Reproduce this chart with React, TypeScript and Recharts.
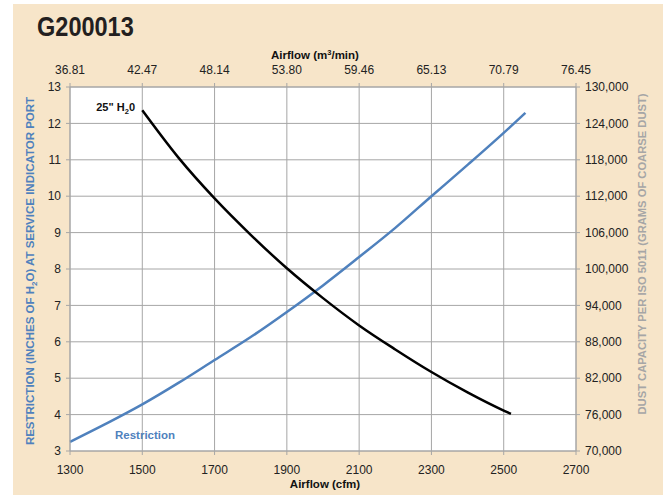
import React from "react";
import { LineChart, Line, XAxis, YAxis, CartesianGrid } from "recharts";

const cfmTicks = [1300, 1500, 1700, 1900, 2100, 2300, 2500, 2700];
const m3Labels = ["36.81", "42.47", "48.14", "53.80", "59.46", "65.13", "70.79", "76.45"];
const restrictionTicks = [3, 4, 5, 6, 7, 8, 9, 10, 11, 12, 13];
const dustTicks = [70000, 76000, 82000, 88000, 94000, 100000, 106000, 112000, 118000, 124000, 130000];

// Restriction curve (left axis, inches H2O)
const restrictionCfm = [1300, 1400, 1500, 1600, 1700, 1800, 1900, 2000, 2100, 2200, 2300, 2400, 2500, 2560];
const restrictionValues = [3.25, 3.75, 4.28, 4.87, 5.5, 6.13, 6.82, 7.55, 8.33, 9.13, 10.0, 10.86, 11.74, 12.29];

// Dust capacity at 25" H2O (right axis, grams)
const dustCfm = [1500, 1600, 1700, 1800, 1900, 2000, 2100, 2200, 2300, 2400, 2500, 2520];
const dustValues = [126160, 118360, 111640, 105640, 100120, 95200, 90700, 86740, 83020, 79660, 76660, 76120];

const restrictionData = restrictionCfm.map((cfm, i) => ({ cfm, restriction: restrictionValues[i] }));
const dustData = dustCfm.map((cfm, i) => ({ cfm, dust: dustValues[i] }));

const FONT = "'Liberation Sans', Arial, Helvetica, sans-serif";
const BLUE = "#4f81bd";
const GRID = "#a6a6a6";
const tickStyle = { fontSize: 12, fill: "#222", fontFamily: FONT };

export default function App() {
  return (
    <div style={{ position: "absolute", left: 0, top: 0, width: 668, height: 496, fontFamily: FONT }}>
      <div style={{ position: "absolute", left: 13, top: 4, width: 650, height: 491, background: "#f7e5c9" }} />

      <div
        style={{
          position: "absolute",
          left: 37,
          top: 11,
          fontWeight: 700,
          fontSize: 28,
          color: "#231f20",
          transform: "scaleX(0.84)",
          transformOrigin: "left top",
          whiteSpace: "nowrap",
        }}
      >
        G200013
      </div>

      <div style={{ position: "absolute", left: 13, top: 4 }}>
        <LineChart width={650} height={491} margin={{ top: 53, right: 0, bottom: 14, left: 0 }}>
          <CartesianGrid stroke={GRID} fill="#ffffff" xAxisId="bottom" yAxisId="left" />
          <XAxis
            xAxisId="bottom"
            dataKey="cfm"
            type="number"
            domain={[1300, 2700]}
            ticks={cfmTicks}
            height={30}
            tickSize={4}
            tickMargin={10}
            stroke={GRID}
            tick={tickStyle}
          />
          <XAxis
            xAxisId="top"
            orientation="top"
            dataKey="cfm"
            type="number"
            domain={[1300, 2700]}
            ticks={cfmTicks}
            height={30}
            tickSize={4}
            tickMargin={9}
            stroke={GRID}
            tick={tickStyle}
            tickFormatter={(v: number) => m3Labels[cfmTicks.indexOf(v)] ?? ""}
          />
          <YAxis
            yAxisId="left"
            domain={[3, 13]}
            ticks={restrictionTicks}
            width={57}
            tickSize={4}
            tickMargin={5}
            stroke={GRID}
            tick={tickStyle}
          />
          <YAxis
            yAxisId="right"
            orientation="right"
            domain={[70000, 130000]}
            ticks={dustTicks}
            width={87}
            tickSize={4}
            tickMargin={5}
            stroke={GRID}
            tick={{ ...tickStyle, textAnchor: "start" }}
            tickFormatter={(v: number) => v.toLocaleString("en-US")}
          />
          <Line
            xAxisId="top"
            yAxisId="left"
            data={restrictionData}
            dataKey="restriction"
            type="monotone"
            stroke={BLUE}
            strokeWidth={2.5}
            dot={false}
            isAnimationActive={false}
          />
          <Line
            xAxisId="bottom"
            yAxisId="right"
            data={dustData}
            dataKey="dust"
            type="monotone"
            stroke="#000"
            strokeWidth={2.5}
            dot={false}
            isAnimationActive={false}
          />
        </LineChart>
      </div>

      <div style={{ position: "absolute", left: 265, top: 49, width: 100, textAlign: "center", fontSize: 11.5, fontWeight: 700, color: "#111", whiteSpace: "nowrap" }}>
        Airflow (m<sup style={{ fontSize: 7.5, verticalAlign: "4px", lineHeight: 0 }}>3</sup>/min)
      </div>
      <div style={{ position: "absolute", left: 275, top: 478, width: 100, textAlign: "center", fontSize: 11.5, fontWeight: 700, color: "#111", whiteSpace: "nowrap" }}>
        Airflow (cfm)
      </div>

      <div style={{ position: "absolute", left: 76, top: 101, fontSize: 11, fontWeight: 700, color: "#111", whiteSpace: "nowrap", width: 59, textAlign: "right" }}>
        25" H<sub style={{ fontSize: 7.5, verticalAlign: "-3px", lineHeight: 0 }}>2</sub>0
      </div>
      <div style={{ position: "absolute", left: 115, top: 429, fontSize: 11.5, fontWeight: 700, color: BLUE, whiteSpace: "nowrap" }}>
        Restriction
      </div>

      <div
        style={{
          position: "absolute",
          left: 30,
          top: 271,
          transform: "translate(-50%, -50%) rotate(-90deg)",
          fontSize: 11.5,
          fontWeight: 700,
          color: BLUE,
          whiteSpace: "nowrap",
        }}
      >
        RESTRICTION (INCHES OF H<sub style={{ fontSize: 8, verticalAlign: "-3px", lineHeight: 0 }}>2</sub>O) AT SERVICE INDICATOR PORT
      </div>
      <div
        style={{
          position: "absolute",
          left: 642,
          top: 254,
          transform: "translate(-50%, -50%) rotate(-90deg)",
          fontSize: 11.2,
          fontWeight: 700,
          color: "#a6a6a6",
          whiteSpace: "nowrap",
        }}
      >
        DUST CAPACITY PER ISO 5011 (GRAMS OF COARSE DUST)
      </div>
    </div>
  );
}
